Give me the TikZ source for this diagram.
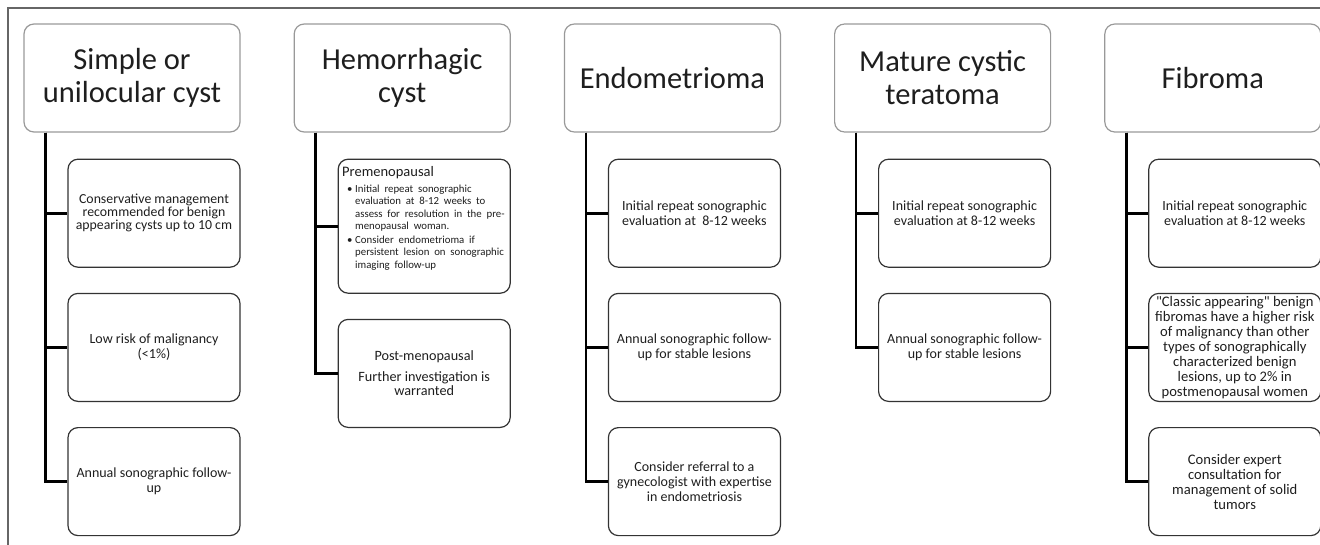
\documentclass[tikz,border=0pt]{standalone}
\usepackage{fontspec}
\setmainfont{Carlito}[Ligatures=TeXOff]
\usetikzlibrary{positioning}
\definecolor{inkgray}{HTML}{1E1E1E}
\newcommand{\bulletline}[1]{\par\hangindent=13pt\hangafter=1\noindent
  \hbox to 13pt{\hspace{5pt}\textbullet\hfill}#1\par}

\begin{document}
\begin{tikzpicture}[
  x=1pt,y=-1pt,
  node distance=25pt,
  frame/.style={draw=black!60,line width=1.2pt},
  link/.style={draw=black,line width=2.6pt},
  head/.style={draw=black!40,line width=1.2pt,rounded corners=10pt,
               minimum width=216pt,minimum height=108pt,align=center,
               text=inkgray,font=\fontsize{30.5}{33}\selectfont},
  advice/.style={draw=black!80,line width=1.2pt,rounded corners=10pt,
                 minimum width=172pt,minimum height=108pt,align=center,
                 inner sep=2pt,text=inkgray,font=\fontsize{14}{15}\selectfont}
]
\useasboundingbox (0,0) rectangle (1320,544);
\draw[frame] (8,570) -- (8,8) -- (1340,8);

% headers
\node[head] (simple) at (132,78) {Simple or\\unilocular cyst};
\node[head,right=53pt of simple] (hemor) {Hemorrhagic\\cyst};
\node[head,right=53pt of hemor] (endo) {Endometrioma};
\node[head,right=53pt of endo] (terat) {Mature cystic\\teratoma};
\node[head,right=53pt of terat] (fibro) {Fibroma};

% simple cyst
\node[advice,below left=26pt and 0pt of simple.south east,
      font=\fontsize{13.8}{11.4}\selectfont] (simpleA)
  {Conservative management\\recommended for benign\\appearing cysts up to 10 cm};
\node[advice,below=of simpleA] (simpleB) {Low risk of malignancy\\(<1\%)};
\node[advice,below=of simpleB] (simpleC) {Annual sonographic follow-\\up};

% hemorrhagic cyst
\node[advice,below left=26pt and 0pt of hemor.south east,minimum height=134pt,
      text width=164pt,align=left,anchor=north east,inner sep=4pt,
      font=\fontsize{14.5}{15}\selectfont] (hemorA)
  {Premenopausal\\[1pt]
   \parbox[t]{175pt}{\fontsize{10.8}{12.4}\selectfont
     \hyphenpenalty=10000\rightskip=0pt plus 1fil
     \bulletline{Initial repeat sonographic\newline evaluation at 8-12 weeks to\newline
       assess for resolution in the pre-\newline menopausal woman.}
     \vspace{1.5pt}
     \bulletline{Consider endometrioma if\newline persistent lesion on sonographic\newline
       imaging follow-up}
     \vspace{16pt}}};
\node[advice,below=of hemorA,font=\fontsize{14.2}{14.5}\selectfont] (hemorB)
  {Post-menopausal\\[6pt]Further investigation is\\warranted};

% endometrioma
\node[advice,below left=26pt and 0pt of endo.south east] (endoA)
  {Initial repeat sonographic\\evaluation at~~8-12 weeks};
\node[advice,below=of endoA] (endoB) {Annual sonographic follow-\\up for stable lesions};
\node[advice,below=of endoB] (endoC)
  {Consider referral to a\\gynecologist with expertise\\in endometriosis};

% teratoma
\node[advice,below left=26pt and 0pt of terat.south east] (teratA)
  {Initial repeat sonographic\\evaluation at 8-12 weeks};
\node[advice,below=of teratA] (teratB) {Annual sonographic follow-\\up for stable lesions};

% fibroma
\node[advice,below left=26pt and 0pt of fibro.south east] (fibroA)
  {Initial repeat sonographic\\evaluation at 8-12 weeks};
\node[advice,below=of fibroA,inner sep=1pt,font=\fontsize{14.6}{15}\selectfont] (fibroB)
  {"Classic appearing" benign\\fibromas have a higher risk\\of malignancy than other\\types of sonographically\\characterized benign\\lesions, up to 2\% in\\postmenopausal women};
\node[advice,below=of fibroB,font=\fontsize{14.6}{15}\selectfont] (fibroC)
  {Consider expert\\consultation for\\management of solid\\tumors};

\draw[link] ([xshift=22pt]simple.south west) |- (simpleA.west);
\draw[link] ([xshift=22pt]simple.south west) |- (simpleB.west);
\draw[link] ([xshift=22pt]simple.south west) |- (simpleC.west);
\draw[link] ([xshift=22pt]hemor.south west) |- (hemorA.west);
\draw[link] ([xshift=22pt]hemor.south west) |- (hemorB.west);
\draw[link] ([xshift=22pt]endo.south west) |- (endoA.west);
\draw[link] ([xshift=22pt]endo.south west) |- (endoB.west);
\draw[link] ([xshift=22pt]endo.south west) |- (endoC.west);
\draw[link] ([xshift=22pt]terat.south west) |- (teratA.west);
\draw[link] ([xshift=22pt]terat.south west) |- (teratB.west);
\draw[link] ([xshift=22pt]fibro.south west) |- (fibroA.west);
\draw[link] ([xshift=22pt]fibro.south west) |- (fibroB.west);
\draw[link] ([xshift=22pt]fibro.south west) |- (fibroC.west);
\end{tikzpicture}
\end{document}
